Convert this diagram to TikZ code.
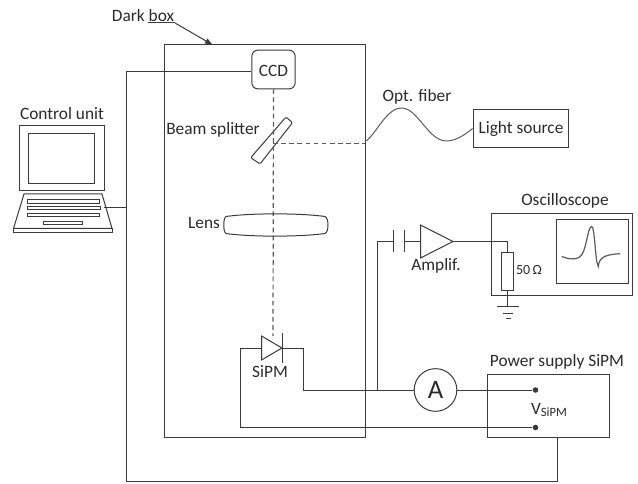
\documentclass[tikz,border=0pt]{standalone}
\usepackage{fontspec}
\usetikzlibrary{arrows.meta}
\setmainfont{Carlito}
\definecolor{ln}{HTML}{3A3A3A}
\definecolor{dsh}{HTML}{5A5A5A}
\definecolor{txt}{HTML}{2A2A2A}
\begin{document}
\begin{tikzpicture}[x=0.75pt,y=-0.75pt,
  line width=0.75pt,color=ln,
  lbl/.style={draw=none,inner sep=0pt,text=txt,font=\fontsize{13}{15}\selectfont},
  bx/.style={draw=ln,line width=0.75pt,inner sep=0pt},
  dashln/.style={draw=dsh,line width=0.9pt,dash pattern=on 3.5pt off 2.6pt},
  term/.style={circle,fill=ln,draw=none,inner sep=0pt,minimum size=4.2pt}]
\useasboundingbox (0,0) rectangle (638,484);
% nodes: boxes
\node[bx,minimum width=150.75pt,minimum height=294pt] (dark) at (264.5,241) {};
\node[bx,rounded corners=4.5pt,minimum width=32.5pt,minimum height=29pt] (ccd) at (273.5,69.5) {};
\node[lbl] at (273.5,70.5) {CCD};
\node[bx,minimum width=71.5pt,minimum height=28pt] (light) at (520.7,128.5) {};
\node[lbl] at (521,129) {Light source};
\node[bx,minimum width=106pt,minimum height=61.5pt] (osc) at (562.2,255) {};
\node[bx,minimum width=53.5pt,minimum height=47.5pt] (scr) at (592.5,251.5) {};
\node[bx,minimum width=91.5pt,minimum height=47pt] (psu) at (548.5,406) {};
\node[bx,minimum width=8.8pt,minimum height=28pt] (res) at (507.5,271.5) {};
\node[bx,circle,minimum size=32pt] (amm) at (435.5,390) {};
\node[lbl,font=\fontsize{20}{22}\selectfont] at (435.5,390) {A};
% labels
\node[lbl] (lcu) at (62,114) {Control unit};
\node[lbl] (ldb) at (143,16) {Dark box};
\node[lbl] (lbs) at (213,130) {Beam splitter};
\node[lbl] (lln) at (204,223) {Lens};
\node[lbl] (lof) at (417,97) {Opt. fiber};
\node[lbl] (los) at (565,201) {Oscilloscope};
\node[lbl] (lam) at (436,266) {Amplif.};
\node[lbl,font=\fontsize{10.5}{12}\selectfont] (l50) at (529,270) {50\,Ω};
\node[lbl] (lsp) at (270,372) {SiPM};
\node[lbl] (lps) at (557,362) {Power supply SiPM};
\node[lbl] (lvs) at (549,410) {V\raisebox{-2pt}{\fontsize{9.5}{11}\selectfont SiPM}};
\node[term] (tp) at (535.5,390) {};
\node[term] (tm) at (535.5,427.5) {};
% coordinates
\coordinate (ulA) at (148,23);
\coordinate (ulB) at (175,23);
\coordinate (arr) at (213,45);
\coordinate (c1) at (126,71.7);
\coordinate (c2) at (126,481.5);
\coordinate (c3) at (557,481.5);
\coordinate (c4) at (557,437.5);
\coordinate (lap) at (104,208);
\coordinate (lapj) at (126,208);
\coordinate (bs) at (273,143.5);
\coordinate (fib) at (365,143.5);
\coordinate (dtop) at (273,336);
% dark box pointer
\draw (ulA) -- (ulB);
\draw[-{Latex[length=6pt,width=4.5pt]}] (ulB) -- (arr);
% control wire
\draw (c1 -| ccd.west) -- (c1) -- (c2) -- (c3) -- (c4);
\draw (lap) -- (lapj);
% laptop
\draw (19.5,125.5) rectangle (104,191);
\draw (28,134) rectangle (94,183.5);
\draw (24,194) -- (102,194) -- (112,228.5) -- (13.5,228.5) -- cycle;
\draw (13.5,228.5) rectangle (112,233);
\draw (27,200) rectangle (99,203.5);
\draw (27,206.5) rectangle (100,209.5);
\draw (27,214) rectangle (99,216.5);
\draw (43,222) rectangle (82,225);
% splitter
\draw[rounded corners=1pt] (286,117) -- (292.5,122.7) -- (260,164) -- (250.7,157.7) -- cycle;
% optical path
\draw[dashln] (ccd.south) -- (dtop);
\draw[dashln] (bs) -- (fib);
% fibre
\draw[draw=dsh] (365,141.7) .. controls (376,135) and (386,108) .. (401.5,108)
  .. controls (418,108) and (428,141) .. (446.5,141)
  .. controls (456,141) and (466,134) .. (light.west);
% lens
\draw (226,216.5) .. controls (250,213) and (300,213) .. (325,216.5)
  .. controls (329,218) and (329,232) .. (325,233.5)
  .. controls (300,237) and (250,237) .. (226,233.5)
  .. controls (223,232) and (223,218) .. (226,216.5) -- cycle;
% amplifier branch
\coordinate (junc) at (377,390);
\coordinate (ca) at (377,241.5);
\coordinate (cl) at (393.5,241.5);
\coordinate (cr) at (404,241.5);
\coordinate (ampi) at (420.5,241.5);
\coordinate (ampo) at (453,241.5);
\coordinate (rt) at (507.5,241.5);
\coordinate (gnd) at (507.5,306);
\draw (junc) -- (ca) -- (cl);
\draw (393.5,230) -- (393.5,252);
\draw (404,230) -- (404,252);
\draw (cr) -- (ampi);
\draw (420.5,225) -- (ampo) -- (420.5,258) -- cycle;
\draw (ampo) -- (rt) -- (res.north);
\draw (res.south) -- (gnd);
\draw (497,306) -- (518.5,306);
\draw (503,313.5) -- (513,313.5);
\draw (506,318) -- (511,318);
% pulse
\draw[draw=dsh,line width=0.9pt] (561.7,256.5) .. controls (568,259) and (574,260) .. (579,257.5)
 .. controls (587,253) and (587,227) .. (591.7,226.5)
 .. controls (595,227) and (595,262) .. (598.3,266.5)
 .. controls (599,258) and (604,254.5) .. (620,253.7);
% SiPM
\coordinate (dl) at (261.5,348);
\coordinate (dr) at (282,348);
\coordinate (wl) at (240,348);
\coordinate (wr) at (303,348);
\coordinate (wrb) at (303,390);
\coordinate (wlb) at (240,427.5);
\draw (261.5,336) -- (dr) -- (261.5,360) -- cycle;
\draw (282,333) -- (282,363);
\draw (dl) -- (wl) -- (wlb) -- (tm);
\draw (dr) -- (wr) -- (wrb) -- (amm.west);
\draw (amm.east) -- (tp);
\end{tikzpicture}
\end{document}
